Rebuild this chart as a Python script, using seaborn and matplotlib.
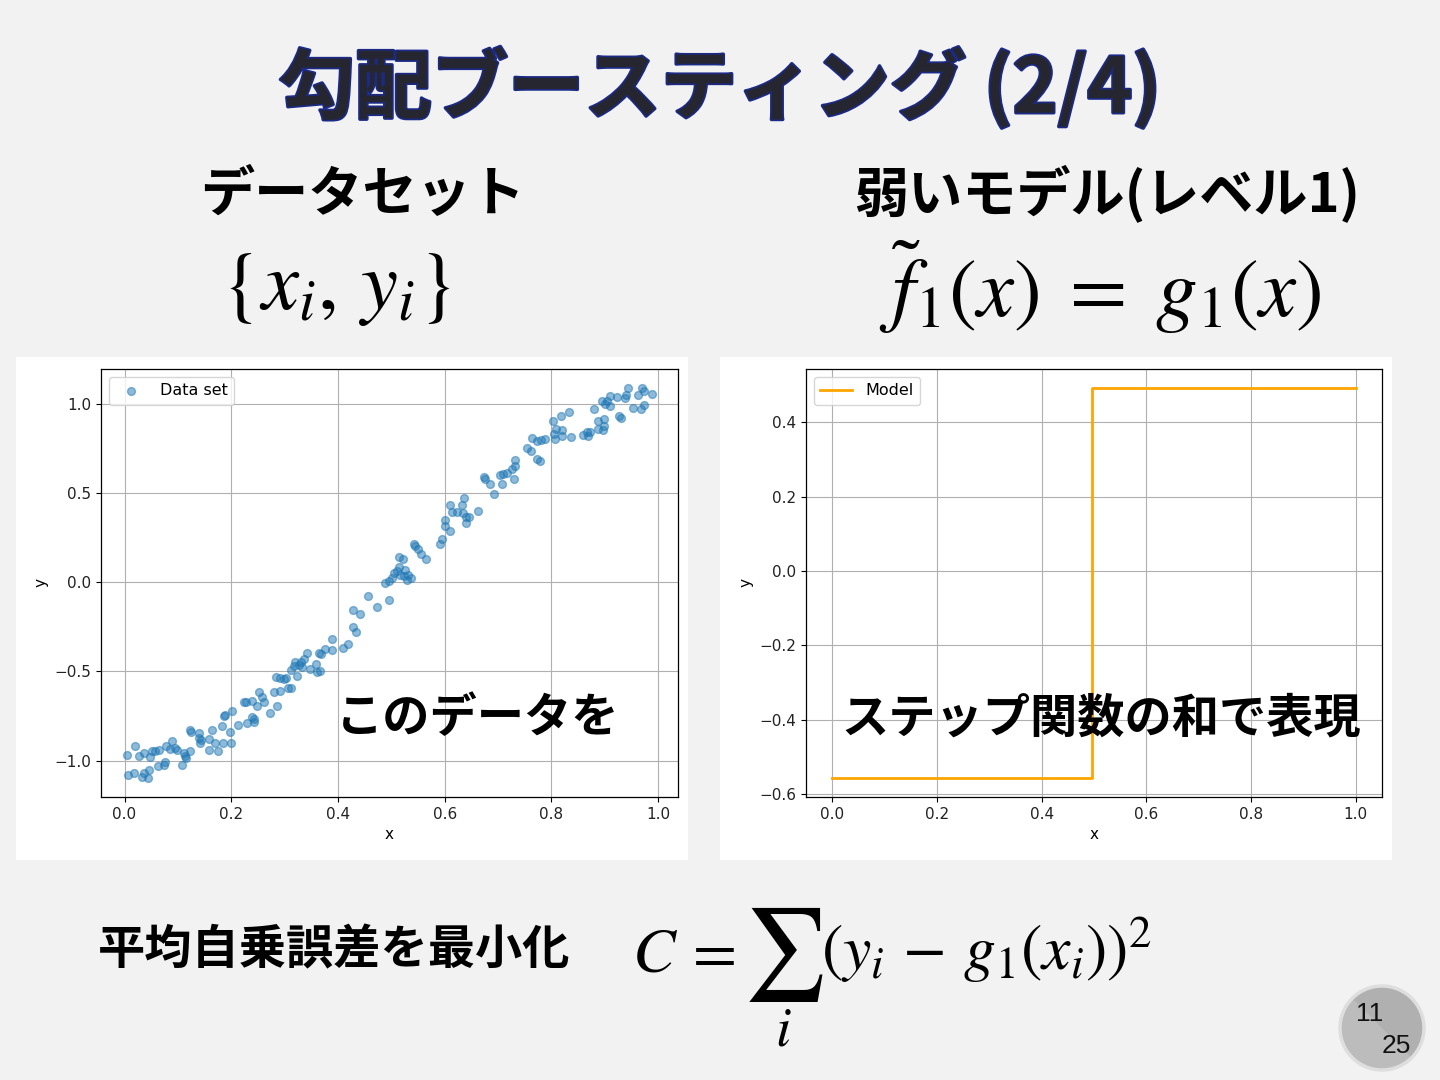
import matplotlib
matplotlib.use("Agg")
import matplotlib.pyplot as plt
import matplotlib.patheffects as pe
from matplotlib.patches import Rectangle, Circle, Wedge
import pandas as pd
import seaborn as sns

# Data set
data_x = [0.005, 0.006, 0.017, 0.020, 0.027, 0.032, 0.036, 0.036, 0.044, 0.046,
          0.047, 0.051, 0.057, 0.063, 0.064, 0.074, 0.075, 0.077, 0.086, 0.089,
          0.094, 0.099, 0.108, 0.111, 0.114, 0.116, 0.122, 0.122, 0.124, 0.139,
          0.140, 0.142, 0.144, 0.158, 0.158, 0.163, 0.170, 0.175, 0.182, 0.184,
          0.187, 0.189, 0.197, 0.200, 0.202, 0.213, 0.223, 0.227, 0.230, 0.239,
          0.239, 0.242, 0.248, 0.252, 0.242, 0.258, 0.261, 0.273, 0.280, 0.283,
          0.286, 0.291, 0.292, 0.298, 0.303, 0.307, 0.311, 0.311, 0.317, 0.320,
          0.323, 0.326, 0.330, 0.333, 0.336, 0.342, 0.348, 0.358, 0.361, 0.364,
          0.367, 0.368, 0.376, 0.389, 0.389, 0.410, 0.419, 0.428, 0.433, 0.428,
          0.442, 0.456, 0.473, 0.489, 0.495, 0.495, 0.504, 0.501, 0.511, 0.514,
          0.514, 0.517, 0.521, 0.523, 0.526, 0.529, 0.532, 0.537, 0.542, 0.545,
          0.550, 0.556, 0.564, 0.592, 0.594, 0.600, 0.601, 0.609, 0.610, 0.614,
          0.623, 0.632, 0.634, 0.637, 0.639, 0.640, 0.646, 0.662, 0.673, 0.676,
          0.685, 0.692, 0.704, 0.708, 0.710, 0.717, 0.726, 0.729, 0.731, 0.732,
          0.754, 0.762, 0.763, 0.772, 0.773, 0.779, 0.780, 0.788, 0.803, 0.805,
          0.807, 0.809, 0.818, 0.820, 0.820, 0.832, 0.836, 0.860, 0.866, 0.869,
          0.873, 0.879, 0.888, 0.888, 0.895, 0.896, 0.898, 0.899, 0.901, 0.904,
          0.909, 0.910, 0.923, 0.926, 0.930, 0.938, 0.940, 0.943, 0.953, 0.963,
          0.968, 0.969, 0.973, 0.974, 0.988]
data_y = [-0.970, -1.082, -1.069, -0.918, -0.976, -1.091, -0.955, -1.072, -1.095, -1.054,
          -0.980, -0.948, -0.948, -1.032, -0.939, -1.022, -1.007, -0.920, -0.933, -0.892,
          -0.929, -0.939, -1.022, -0.955, -0.974, -0.983, -0.948, -0.827, -0.840, -0.874,
          -0.844, -0.900, -0.883, -0.881, -0.943, -0.826, -0.901, -0.948, -0.809, -0.901,
          -0.751, -0.744, -0.840, -0.901, -0.723, -0.799, -0.673, -0.670, -0.790, -0.753,
          -0.664, -0.766, -0.695, -0.617, -0.784, -0.645, -0.670, -0.734, -0.614, -0.534,
          -0.695, -0.608, -0.539, -0.543, -0.539, -0.595, -0.595, -0.493, -0.469, -0.450,
          -0.525, -0.465, -0.450, -0.475, -0.432, -0.395, -0.487, -0.460, -0.506, -0.395,
          -0.497, -0.404, -0.372, -0.382, -0.320, -0.371, -0.348, -0.250, -0.280, -0.159,
          -0.177, -0.079, -0.140, -0.005, 0.005, -0.101, 0.051, 0.023, 0.060, 0.140,
          0.082, 0.042, 0.129, 0.032, 0.070, 0.010, 0.042, 0.023, 0.214, 0.203,
          0.185, 0.159, 0.129, 0.214, 0.241, 0.348, 0.315, 0.289, 0.432, 0.394,
          0.394, 0.432, 0.386, 0.469, 0.367, 0.330, 0.367, 0.398, 0.589, 0.575,
          0.547, 0.491, 0.599, 0.547, 0.608, 0.614, 0.631, 0.575, 0.686, 0.649,
          0.750, 0.733, 0.807, 0.692, 0.788, 0.677, 0.798, 0.803, 0.905, 0.831,
          0.803, 0.859, 0.928, 0.853, 0.818, 0.955, 0.812, 0.827, 0.840, 0.818,
          0.840, 0.970, 0.905, 0.859, 1.017, 0.850, 0.915, 0.877, 0.998, 1.017,
          1.041, 0.985, 1.035, 0.933, 0.920, 1.030, 1.048, 1.085, 0.974, 1.050,
          0.970, 1.085, 1.072, 0.993, 1.054]

# Weak model (level 1): single step
model_x = [0.0, 0.496, 0.496, 1.0]
model_y = [-0.555, -0.555, 0.491, 0.491]

W, H = 1440, 1080
BG = "#f2f2f2"
JP = ["Noto Sans CJK JP", "DejaVu Sans"]

plt.rcParams["mathtext.fontset"] = "stix"
plt.rcParams["font.size"] = 11


def fx(px):
    return px / W


def fy(py):
    return 1 - py / H


fig = plt.figure(figsize=(W / 100, H / 100), dpi=100, facecolor=BG)

# background layer in pixel coords (panels + page badge)
bg = fig.add_axes([0, 0, 1, 1], zorder=-5)
bg.set_xlim(0, W)
bg.set_ylim(H, 0)
bg.axis("off")
bg.add_patch(Rectangle((16, 357), 672, 503, facecolor="white", edgecolor="none"))
bg.add_patch(Rectangle((720, 357), 672, 503, facecolor="white", edgecolor="none"))
bg.add_patch(Circle((1382, 1028), 42, facecolor="#bcbcbc", edgecolor="none"))
bg.add_patch(Wedge((1382, 1028), 42, 225, 405, facecolor="#b0b0b0", edgecolor="none"))
bg.add_patch(Circle((1382, 1028), 42, facecolor="none", edgecolor="#dedede", lw=2.5))

df = pd.DataFrame({"x": data_x, "y": data_y})
mdf = pd.DataFrame({"x": model_x, "y": model_y})

# left: data set
ax1 = fig.add_axes([fx(101), fy(797), 577 / W, 428 / H])
sns.scatterplot(data=df, x="x", y="y", ax=ax1, color="#1f77b4", alpha=0.5,
                s=32, edgecolor="#1f77b4", linewidth=1.0, label="Data set")
ax1.grid(True, color="#b0b0b0", lw=0.8)
ax1.set_axisbelow(True)
ax1.set_xticks([0.0, 0.2, 0.4, 0.6, 0.8, 1.0])
ax1.set_yticks([-1.0, -0.5, 0.0, 0.5, 1.0])
ax1.set_xlabel("x")
ax1.set_ylabel("y")
ax1.legend(loc="upper left", fontsize=11.5)

# right: step model
ax2 = fig.add_axes([fx(806), fy(797), 576 / W, 428 / H])
sns.lineplot(data=mdf, x="x", y="y", ax=ax2, color="orange", lw=2,
             estimator=None, sort=False, label="Model")
ax2.grid(True, color="#b0b0b0", lw=0.8)
ax2.set_xticks([0.0, 0.2, 0.4, 0.6, 0.8, 1.0])
ax2.set_yticks([-0.6, -0.4, -0.2, 0.0, 0.2, 0.4])
ax2.set_xlabel("x")
ax2.set_ylabel("y")
ax2.legend(loc="upper left", fontsize=11.5)

for ax in (ax1, ax2):
    for sp in ax.spines.values():
        sp.set_visible(True)
        sp.set_color("black")
        sp.set_linewidth(0.9)
    ax.tick_params(direction="out", length=3.5, color="black", labelcolor="#222222")

# slide texts
fig.text(fx(720), fy(88), "勾配ブースティング (2/4)", family=JP, weight="bold",
         fontsize=55, color="#262630", ha="center", va="center",
         path_effects=[pe.withStroke(linewidth=2.5, foreground="#1b2a86")])
fig.text(fx(362), fy(195), "データセット", family=JP, weight="bold",
         fontsize=39, ha="center", va="center")
fig.text(fx(1107), fy(195), "弱いモデル(レベル1)", family=JP, weight="bold",
         fontsize=39, ha="center", va="center")
fig.text(fx(336), fy(287), r"$\{x_i,\, y_i\}$", fontsize=60, ha="center", va="center")
fig.text(fx(1100), fy(287), r"$\tilde{f}_1(x)\;=\;g_1(x)$", fontsize=60,
         ha="center", va="center")
fig.text(fx(478), fy(718), "このデータを", family=JP, weight="bold",
         fontsize=34, ha="center", va="center")
fig.text(fx(1101), fy(718), "ステップ関数の和で表現", family=JP, weight="bold",
         fontsize=34, ha="center", va="center")
fig.text(fx(334), fy(950), "平均自乗誤差を最小化", family=JP, weight="bold",
         fontsize=34, ha="center", va="center")

# cost function, assembled so that the sum sign is display-sized
fig.text(fx(655), fy(953), r"$C$", fontsize=46, ha="center", va="center")
fig.text(fx(709), fy(953), r"$=$", fontsize=46, ha="center", va="center")
fig.text(fx(783), fy(954), r"$\sum$", fontsize=66, ha="center", va="center")
fig.text(fx(783), fy(1030), r"$i$", fontsize=40, ha="center", va="center")
fig.text(fx(821), fy(950), r"$\left(y_i\,-\,g_1(x_i)\right)^2$", fontsize=46,
         ha="left", va="center")

fig.text(fx(1370), fy(1014), "11", family="Liberation Sans", fontsize=19,
         ha="center", va="center", color="#111111")
fig.text(fx(1396), fy(1046), "25", family="Liberation Sans", fontsize=19,
         ha="center", va="center", color="#111111")

fig.savefig("out.png", dpi=100, facecolor=BG)
